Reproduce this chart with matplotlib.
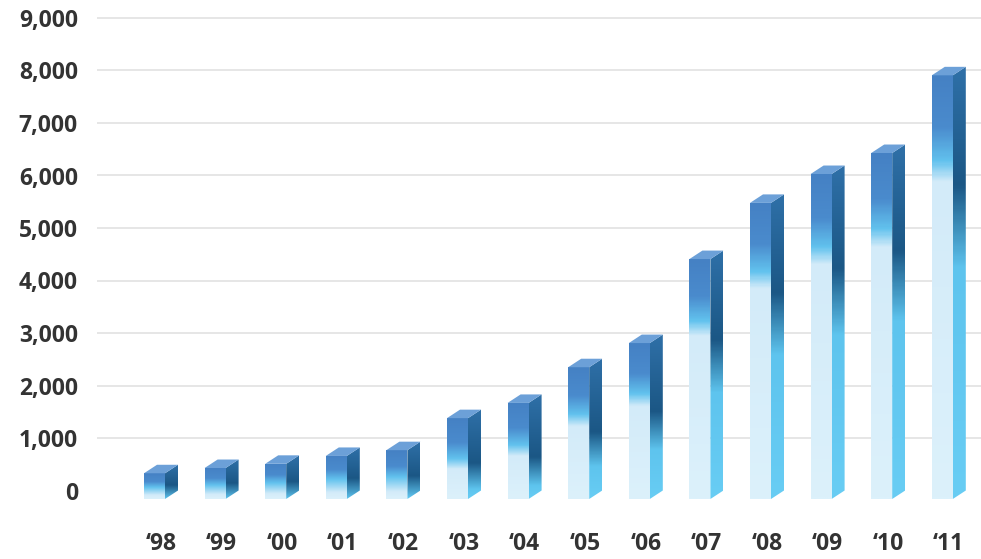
import numpy as np
import matplotlib
matplotlib.use('Agg')
import matplotlib.pyplot as plt
from matplotlib.colors import LinearSegmentedColormap
from matplotlib.patches import Polygon

# ---- data ----
years = ["\u201898", "\u201899", "\u201800", "\u201801", "\u201802", "\u201803", "\u201804",
         "\u201805", "\u201806", "\u201807", "\u201808", "\u201809", "\u201810", "\u201811"]
values = [490, 590, 670, 820, 930, 1540, 1830, 2510, 2970, 4570, 5640, 6190, 6590, 8070]
yticks = list(range(0, 10000, 1000))
ytick_labels = [f"{v:,}" for v in yticks]

# ---- layout (pixels) ----
W, H = 981, 559
fig = plt.figure(figsize=(W / 100, H / 100), dpi=100)
left_px, right_px, top_px, bottom_px = 97, 981, 0, 525
ax = fig.add_axes([left_px / W, 1 - bottom_px / H,
                   (right_px - left_px) / W, (bottom_px - top_px) / H])

px_per_unit_y = 52.5 / 1000.0
zero_px = 490.5
bar_pitch = 60.6
first_center = 154.5

w = 21 / bar_pitch
dx = 13 / bar_pitch
dy = 8.5 / px_per_unit_y

text_color = '#333333'
font = dict(family='Open Sans', weight='bold', size=16.5)

# gridlines (skip zero)
for t in yticks[1:]:
    ax.axhline(t, color='#e2e2e2', linewidth=1.2, zorder=1)


def grad_image(ax, cmap, extent, clip_verts):
    img = cmap(np.linspace(0, 1, 300))[:, None, :]
    patch = Polygon(clip_verts, closed=True, facecolor='none', edgecolor='none',
                    transform=ax.transData)
    ax.add_patch(patch)
    im = ax.imshow(img, extent=extent, origin='upper', aspect='auto',
                   interpolation='bilinear', zorder=3)
    im.set_clip_path(patch)


for i, v in enumerate(values):
    h_px = v * px_per_unit_y
    cyan_px = 30 + 0.13 * h_px
    pale_px = cyan_px + 8 + 0.03 * h_px
    cyan_f = min(cyan_px / h_px, 0.55)
    pale_f = min(pale_px / h_px, 0.85)
    if pale_f <= cyan_f + 0.02:
        pale_f = cyan_f + 0.05
    front_cmap = LinearSegmentedColormap.from_list('f', [
        (0.0, '#4581c4'), (0.6 * cyan_f, '#4a8bcd'), (cyan_f, '#62c2ee'),
        (pale_f, '#d3ebf9'), (1.0, '#dcf1fb')])
    sd = min((pale_px + 10) / h_px, 0.6)
    sc = min(sd + (0.17 * h_px + 10) / h_px, 1.0)
    if sc <= sd + 0.02:
        sc = min(sd + 0.1, 1.0)
    side_stops = [(0.0, '#2f70a8'), (sd, '#1b5785'), (sc, '#5ec4ee')]
    if sc < 1.0:
        side_stops.append((1.0, '#68cdf4'))
    side_cmap = LinearSegmentedColormap.from_list('s', side_stops)

    x0 = i - w / 2
    x1 = i + w / 2
    # front face
    front = [(x0, -dy), (x1, -dy), (x1, v - dy), (x0, v - dy)]
    grad_image(ax, front_cmap, (x0, x1, -dy, v - dy), front)
    # side face
    side = [(x1, -dy), (x1 + dx, 0), (x1 + dx, v), (x1, v - dy)]
    grad_image(ax, side_cmap, (x1, x1 + dx, -dy, v), side)
    # top face
    top = [(x0, v - dy), (x1, v - dy), (x1 + dx, v), (x0 + dx, v)]
    ax.add_patch(Polygon(top, closed=True, facecolor='#6ca0d8', edgecolor='none', zorder=4))

ax.set_ylim(-(bottom_px - zero_px) / px_per_unit_y, (zero_px - top_px) / px_per_unit_y)
ax.set_xlim((left_px - first_center) / bar_pitch, (right_px - first_center) / bar_pitch)

ax.set_yticks(yticks)
ax.set_yticklabels(ytick_labels, **font, color=text_color)
ax.set_xticks(np.arange(len(years)) + dx / 2)
ax.set_xticklabels(years, **font, color=text_color)
ax.tick_params(axis='y', length=0, pad=13.7)
ax.tick_params(axis='x', length=0, pad=5)
for s in ax.spines.values():
    s.set_visible(False)
ax.set_facecolor('white')

fig.savefig('out.png', dpi=100, facecolor='white')
